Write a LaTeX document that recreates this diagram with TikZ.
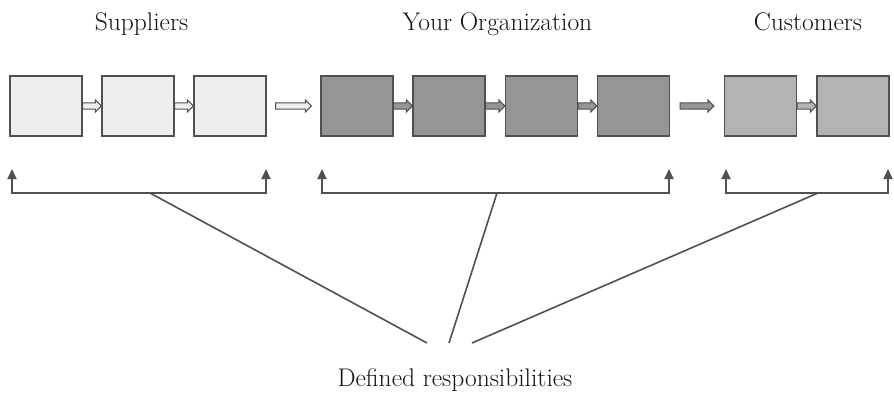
\documentclass[tikz,border=0pt]{standalone}
\usetikzlibrary{arrows.meta,calc}
\definecolor{edge}{HTML}{505050}
\definecolor{suppfill}{HTML}{EEEEEE}
\definecolor{orgfill}{HTML}{959595}
\definecolor{custfill}{HTML}{B3B3B3}
\definecolor{ink}{HTML}{141414}
% block arrow drawn from the east side of one node to the west side of another
\newcommand{\blockarrow}[4][0pt]{%
  \path[draw=edge, fill=#4, line width=1pt, line join=miter]
    let \p1=(#2.east), \p2=(#3.west) in
    ($(\x1+#1,\y1+3.2pt)$) -- ($(\x2-6pt-#1,\y1+3.2pt)$) -- ($(\x2-6pt-#1,\y1+6pt)$)
    -- ($(\x2-#1,\y1)$) -- ($(\x2-6pt-#1,\y1-6pt)$) -- ($(\x2-6pt-#1,\y1-3.2pt)$)
    -- ($(\x1+#1,\y1-3.2pt)$) -- cycle;}
\begin{document}
\begin{tikzpicture}[x=1pt,y=-1pt,
  stage/.style={draw=edge, line width=1.4pt, minimum width=72pt, minimum height=60pt, inner sep=0pt},
  supp/.style={stage, fill=suppfill},
  org/.style={stage, fill=orgfill},
  cust/.style={stage, fill=custfill},
  title/.style={font=\fontsize{25.5}{30}\selectfont, text=ink, anchor=base, inner sep=0pt},
  bracket/.style={draw=edge, line width=2pt, -{Triangle[width=9pt,length=10pt]}},
  link/.style={draw=edge, line width=1.6pt}]
\useasboundingbox (0,0) rectangle (894,392);

% headings
\node[title] (tsupp) at (141.5,30) {Suppliers};
\node[title] (torg) at (497.5,30) {Your Organization};
\node[title] (tcust) at (808,30) {Customers};
\node[title] (tresp) at (455,386) {Defined responsibilities};

% process stages
\node[supp] (s1) at (46,106) {};
\node[supp] (s2) at (138,106) {};
\node[supp] (s3) at (230,106) {};
\node[org] (o1) at (357,106) {};
\node[org] (o2) at (449,106) {};
\node[org] (o3) at (541.5,106) {};
\node[org] (o4) at (633.5,106) {};
\node[cust] (c1) at (760.5,106) {};
\node[cust] (c2) at (853,106) {};

% hand-offs between stages
\blockarrow{s1}{s2}{suppfill}
\blockarrow{s2}{s3}{suppfill}
\blockarrow[9pt]{s3}{o1}{suppfill}
\blockarrow{o1}{o2}{orgfill}
\blockarrow{o2}{o3}{orgfill}
\blockarrow{o3}{o4}{orgfill}
\blockarrow[10pt]{o4}{c1}{orgfill}
\blockarrow{c1}{c2}{custfill}

% responsibility brackets
\coordinate (sl) at (12,193);  \coordinate (sr) at (266,193);
\coordinate (ol) at (322,193); \coordinate (or) at (669,193);
\coordinate (cl) at (726,193); \coordinate (cr) at (888,193);
\draw[draw=edge, line width=2pt] (sl) -- (sr);
\draw[draw=edge, line width=2pt] (ol) -- (or);
\draw[draw=edge, line width=2pt] (cl) -- (cr);
\foreach \p in {sl,sr,ol,or,cl,cr}
  \draw[bracket] ($(\p)+(0,1)$) -- ($(\p)+(0,-24)$);

% leader lines to the caption
\coordinate (sm) at (150,193);
\coordinate (om) at (497,193);
\coordinate (cm) at (818,193);
\coordinate (e1) at (427,343);
\coordinate (e2) at (449,343);
\coordinate (e3) at (472,343);
\draw[link] (sm) -- (e1);
\draw[link] (om) -- (e2);
\draw[link] (cm) -- (e3);
\end{tikzpicture}
\end{document}
